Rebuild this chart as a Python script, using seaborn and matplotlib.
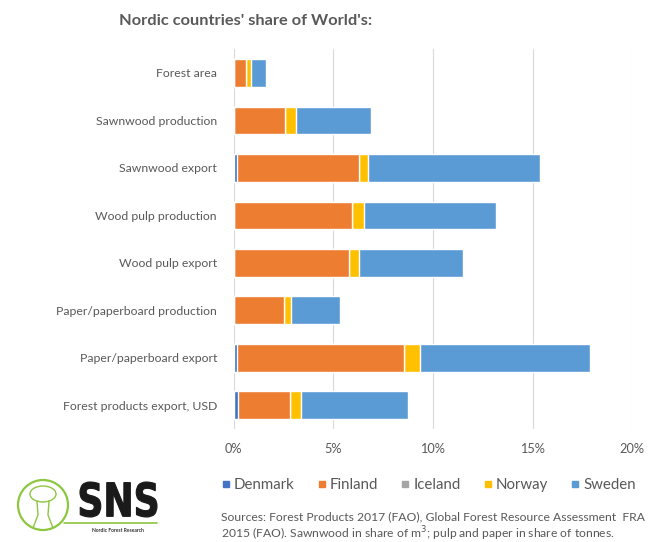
import matplotlib
matplotlib.use("Agg")
import matplotlib.pyplot as plt
import matplotlib.patches as mpatches
from matplotlib.lines import Line2D
from matplotlib.textpath import TextPath
from matplotlib.font_manager import FontProperties
from matplotlib.transforms import Affine2D
import seaborn as sns
import pandas as pd

sns.set_style("white")
plt.rcParams["font.family"] = ["Lato", "DejaVu Sans"]

CATEGORIES = [
    "Forest area",
    "Sawnwood production",
    "Sawnwood export",
    "Wood pulp production",
    "Wood pulp export",
    "Paper/paperboard production",
    "Paper/paperboard export",
    "Forest products export, USD",
]
COUNTRIES = ["Denmark", "Finland", "Iceland", "Norway", "Sweden"]

# shares in percent
DENMARK = [0.02, 0.03, 0.19, 0.02, 0.03, 0.02, 0.19, 0.24]
FINLAND = [0.58, 2.53, 6.08, 5.94, 5.77, 2.50, 8.34, 2.60]
ICELAND = [0.0, 0.0, 0.0, 0.0, 0.0, 0.0, 0.0, 0.0]
NORWAY = [0.29, 0.56, 0.47, 0.58, 0.50, 0.34, 0.84, 0.55]
SWEDEN = [0.71, 3.77, 8.66, 6.62, 5.23, 2.46, 8.50, 5.38]

COLORS = {"Denmark": "#4472C4", "Finland": "#ED7D31", "Iceland": "#A5A5A5",
          "Norway": "#FFC000", "Sweden": "#5B9BD5"}
TEXT = "#595959"
GREEN = "#8DC63F"

df = pd.DataFrame({"category": CATEGORIES, "Denmark": DENMARK, "Finland": FINLAND,
                   "Iceland": ICELAND, "Norway": NORWAY, "Sweden": SWEDEN})
cum = df[COUNTRIES].cumsum(axis=1)
cum["category"] = df["category"]

W, H = 649, 542
fig = plt.figure(figsize=(W / 100, H / 100), dpi=100)
ax = fig.add_axes([0.36, 0.2085, 0.614, 0.701])

# stacked bars: draw cumulative totals back to front
for country in reversed(COUNTRIES):
    sns.barplot(data=cum, x=country, y="category", order=CATEGORIES, orient="h",
                color=COLORS[country], width=0.58, saturation=1, ax=ax)

ax.set_xlim(0, 20)
ax.set_xticks([0, 5, 10, 15, 20])
ax.set_xticklabels(["0%", "5%", "10%", "15%", "20%"])
ax.xaxis.grid(True, color="#D9D9D9", linewidth=0.8)
ax.set_axisbelow(True)
ax.set_xlabel("")
ax.set_ylabel("")
for s in ax.spines.values():
    s.set_visible(False)
ax.tick_params(axis="both", length=0, labelsize=8.8, labelcolor=TEXT)
ax.tick_params(axis="x", labelsize=9.2, pad=10)
ax.tick_params(axis="y", pad=12)

fig.text(0.378, 0.962, "Nordic countries' share of World's:", ha="center", va="center",
         fontsize=11.8, fontweight="bold", color=TEXT)

handles = [Line2D([], [], marker="s", linestyle="", markersize=5,
                  markerfacecolor=COLORS[c], markeredgecolor=COLORS[c]) for c in COUNTRIES]
fig.legend(handles, COUNTRIES, loc="center left", bbox_to_anchor=(221 / W, 1 - 485 / H),
           ncol=5, frameon=False, fontsize=10.8, labelcolor=TEXT,
           handletextpad=0.25, columnspacing=1.5, handlelength=0.6,
           borderpad=0, borderaxespad=0)

fig.text(221 / W, 1 - 527 / H,
         "Sources: Forest Products 2017 (FAO), Global Forest Resource Assessment  FRA\n"
         "2015 (FAO). Sawnwood in share of m$^3$; pulp and paper in share of tonnes.",
         ha="left", va="center", fontsize=8.7, color=TEXT, linespacing=1.2)

# SNS logo (approximation)
fig.patches.append(mpatches.Ellipse((43 / W, 1 - 505 / H), 50 / W, 50 / H,
                                    transform=fig.transFigure, fill=False,
                                    edgecolor=GREEN, linewidth=1.6))
fig.patches.append(mpatches.Ellipse((43 / W, 1 - 494 / H), 26 / W, 16 / H,
                                    transform=fig.transFigure, fill=False,
                                    edgecolor=GREEN, linewidth=1.0))
fig.lines.append(Line2D([37 / W, 38 / W, 33 / W], [1 - 501 / H, 1 - 515 / H, 1 - 528 / H],
                        transform=fig.transFigure, color=GREEN, linewidth=1.0))
fig.lines.append(Line2D([49 / W, 48 / W, 53 / W], [1 - 501 / H, 1 - 515 / H, 1 - 528 / H],
                        transform=fig.transFigure, color=GREEN, linewidth=1.0))
fig.lines.append(Line2D([64 / W, 157 / W], [1 - 523 / H, 1 - 523 / H],
                        transform=fig.transFigure, color=GREEN, linewidth=1.2))
tp = TextPath((0, 0), "SNS", size=10, prop=FontProperties(family="DejaVu Sans", weight="bold"))
ext = tp.get_extents()
x0, x1, y0, y1 = 80, 157, 482, 517
sx = (x1 - x0) / W / ext.width
sy = (y1 - y0) / H / ext.height
tr = Affine2D().translate(-ext.x0, -ext.y0).scale(sx, sy).translate(x0 / W, 1 - y1 / H)
fig.patches.append(mpatches.PathPatch(tr.transform_path(tp), transform=fig.transFigure,
                                      facecolor="#1A1A1A", edgecolor="#1A1A1A", linewidth=0.8))
fig.text(118 / W, 1 - 530 / H, "Nordic Forest Research", ha="center", va="center",
         fontsize=3.6, color="#333333", fontweight="bold")

fig.savefig("out.png", dpi=100, facecolor="white")
plt.close(fig)
